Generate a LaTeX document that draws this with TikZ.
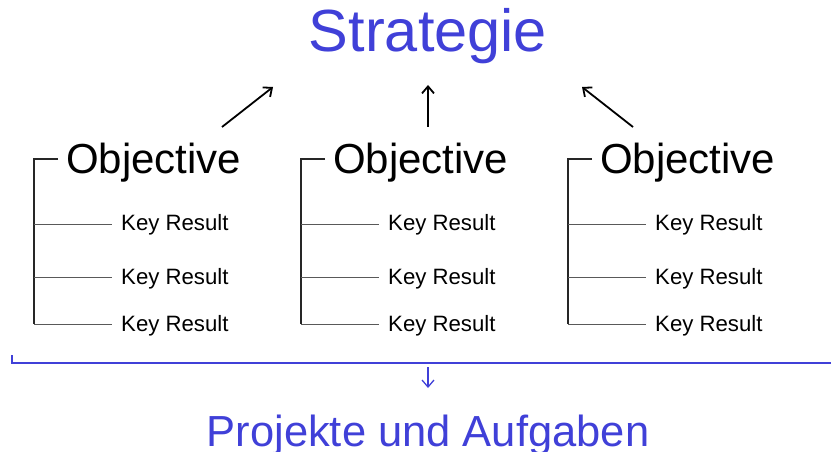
\documentclass[tikz,border=0pt]{standalone}
\usepackage{fontspec}
\setmainfont{Liberation Sans}
\usetikzlibrary{arrows.meta}
\definecolor{okrblue}{RGB}{64,64,216}
\begin{document}
\begin{tikzpicture}[x=1pt,y=-1pt,
  title/.style={text=okrblue,inner sep=0pt,anchor=base,font=\fontsize{59.5}{62}\selectfont},
  obj/.style={inner sep=0pt,anchor=base west,font=\fontsize{42}{46}\selectfont},
  kr/.style={inner sep=0pt,anchor=base west,font=\fontsize{22.2}{25}\selectfont},
  trunk/.style={draw=black!85,line width=1.3pt},
  branch/.style={draw=black!65,line width=1pt},
  uparrow/.style={draw=black,line width=1.8pt,-{Straight Barb[length=7pt,width=12pt]}},
  bluebar/.style={draw=okrblue,line width=1.6pt},
  downarrow/.style={draw=okrblue,line width=1.3pt,-{Straight Barb[length=7pt,width=12pt]}}]
\useasboundingbox (0,0) rectangle (831,452);
\node[title] (strat) at (428,52) {Strategie};
\foreach \i/\dx in {1/0,2/267,3/534}{
  \node[obj] (o\i) at (66+\dx,173) {Objective};
  \coordinate (t\i) at (34+\dx,159);
  \coordinate (h\i) at (58+\dx,159);
  \coordinate (b\i) at (34+\dx,324);
  \node[kr] (k\i a) at (121+\dx,230) {Key Result};
  \node[kr] (k\i b) at (121+\dx,284) {Key Result};
  \node[kr] (k\i c) at (121+\dx,331) {Key Result};
  \draw[trunk] (h\i) -- (t\i) -- (b\i);
  \draw[branch] (34+\dx,224) -- ([xshift=-9pt]k\i a.west |- 34,224);
  \draw[branch] (34+\dx,277) -- ([xshift=-9pt]k\i b.west |- 34,277);
  \draw[branch] (b\i) -- ([xshift=-9pt]k\i c.west |- 34,324);
}
\coordinate (a1s) at (222,127); \coordinate (a1e) at (273,87);
\coordinate (a2s) at (428,127); \coordinate (a2e) at (428,85);
\coordinate (a3s) at (633,127); \coordinate (a3e) at (582,87);
\draw[uparrow] (a1s) -- (a1e);
\draw[uparrow] (a2s) -- (a2e);
\draw[uparrow] (a3s) -- (a3e);
\coordinate (bl) at (12,355);
\coordinate (bc) at (12,363);
\coordinate (br) at (831,363);
\draw[bluebar] (bl) -- (bc) -- (br);
\node[text=okrblue,inner sep=0pt,anchor=base,font=\fontsize{43.5}{46}\selectfont] (proj) at (428,446) {Projekte und Aufgaben};
\coordinate (ds) at (428,367);
\draw[downarrow] (ds) -- (428,388);
\end{tikzpicture}
\end{document}
